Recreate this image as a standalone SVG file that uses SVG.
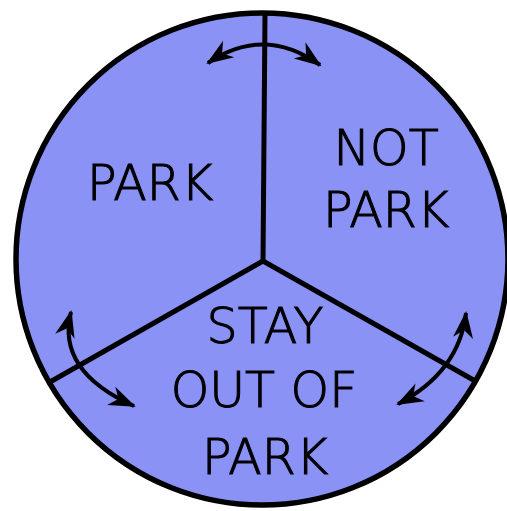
<svg xmlns="http://www.w3.org/2000/svg" width="507" height="511" viewBox="0 0 507 511">
  <style>
    .lbl { font-family: "DejaVu Sans", "Liberation Sans", sans-serif; font-size: 49px; font-weight: 300; fill: #000; text-anchor: middle; stroke: #000; stroke-width: 1.1; }
    .div { stroke: #000; stroke-width: 5; stroke-linecap: butt; fill: none; }
    .arr { stroke: #000; stroke-width: 4; fill: none; marker-start: url(#head); marker-end: url(#head); }
  </style>
  <defs>
    <marker id="head" markerUnits="userSpaceOnUse" viewBox="-28 -12 30 24" refX="0" refY="0" markerWidth="30" markerHeight="24" orient="auto-start-reverse">
      <path d="M2,0 L-25,-10 L-17,0 L-25,10 Z" fill="#000"/>
    </marker>
  </defs>
  <rect width="507" height="511" fill="#ffffff"/>
  <g id="disc">
    <circle cx="262" cy="259" r="246" fill="#8a92f6" stroke="#000" stroke-width="5.5"/>
  </g>
  <g id="connectors">
    <path class="div" d="M265,14 L263,261"/>
    <path class="div" d="M263,261 L50,382"/>
    <path class="div" d="M263,261 L477,382"/>
    <path class="arr" d="M208,63 Q264,25 320,65"/>
    <path class="arr" d="M71,312 Q56,371 134,406"/>
    <path class="arr" d="M466,313 Q459,372 398,404"/>
  </g>
  <g id="park">
    <text class="lbl" x="150" y="200">PARK</text>
  </g>
  <g id="not-park">
    <text class="lbl" x="386" y="165">NOT</text>
    <text class="lbl" x="386" y="227">PARK</text>
  </g>
  <g id="stay-out">
    <text class="lbl" x="265" y="343">STAY</text>
    <text class="lbl" x="264" y="407">OUT OF</text>
    <text class="lbl" x="265" y="474">PARK</text>
  </g>
</svg>
